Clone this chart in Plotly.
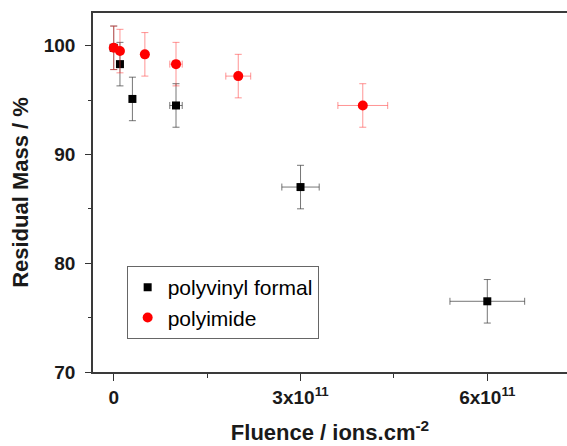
import plotly.graph_objects as go

# Data
pvf_x = [0, 0.1e11, 0.3e11, 1.0e11, 3.0e11, 6.0e11]
pvf_y = [99.8, 98.3, 95.1, 94.5, 87.0, 76.5]
pvf_xerr = [0, 0.01e11, 0.03e11, 0.1e11, 0.3e11, 0.6e11]
pvf_yerr = [2, 2, 2, 2, 2, 2]

pi_x = [0, 0.1e11, 0.5e11, 1.0e11, 2.0e11, 4.0e11]
pi_y = [99.8, 99.5, 99.2, 98.3, 97.2, 94.5]
pi_xerr = [0, 0.01e11, 0.05e11, 0.1e11, 0.2e11, 0.4e11]
pi_yerr = [2, 2, 2, 2, 2, 2]

x_tickvals = [0, 3e11, 6e11]
x_ticktext = ["0", "3x10<sup>11</sup>", "6x10<sup>11</sup>"]
y_tickvals = [70, 80, 90, 100]

fig = go.Figure()
fig.add_trace(go.Scatter(
    x=pvf_x, y=pvf_y, mode="markers", name="polyvinyl formal",
    marker=dict(symbol="square", size=8, color="#000000"),
    error_y=dict(type="data", array=pvf_yerr, color="rgba(60,60,60,0.7)", thickness=1, width=3.5),
    error_x=dict(type="data", array=pvf_xerr, color="rgba(60,60,60,0.7)", thickness=1, width=3.5),
))
fig.add_trace(go.Scatter(
    x=pi_x, y=pi_y, mode="markers", name="polyimide",
    marker=dict(symbol="circle", size=10, color="#ff0000"),
    error_y=dict(type="data", array=pi_yerr, color="rgba(255,60,60,0.55)", thickness=1, width=3.5),
    error_x=dict(type="data", array=pi_xerr, color="rgba(255,60,60,0.55)", thickness=1, width=3.5),
))

axis_font = dict(family="Liberation Sans, Arial, sans-serif", size=19, color="#1a1a1a", weight="bold")
title_font = dict(family="Liberation Sans, Arial, sans-serif", size=22, color="#1a1a1a", weight="bold")

fig.update_layout(
    width=567, height=446,
    margin=dict(l=93, r=0, t=13, b=74, autoexpand=False),
    paper_bgcolor="white", plot_bgcolor="white",
    showlegend=True,
    legend=dict(
        x=0.071, y=0.295, xanchor="left", yanchor="top",
        bordercolor="#666666", borderwidth=1, bgcolor="white",
        font=dict(family="Liberation Sans, Arial, sans-serif", size=21, color="#000000"),
        traceorder="normal",
    ),
    xaxis=dict(
        range=[-0.333e11, 7.28e11],
        automargin=False,
        tickmode="array", tickvals=x_tickvals, ticktext=x_ticktext,
        ticks="outside", ticklen=7, tickwidth=1.2, tickcolor="#333333",
        minor=dict(tickvals=[1.5e11, 4.5e11], ticks="outside", ticklen=4, tickcolor="#333333", tickwidth=1.2),
        showline=True, linecolor="#3a3a3a", linewidth=1.6, mirror=True,
        showgrid=False, zeroline=False,
        tickfont=axis_font,
        title=dict(text="Fluence / ions.cm<sup>-2</sup>", font=title_font, standoff=18),
    ),
    yaxis=dict(
        range=[70, 103.0],
        automargin=False,
        tickmode="array", tickvals=y_tickvals,
        ticks="outside", ticklen=6, tickwidth=1.2, tickcolor="#333333",
        minor=dict(tickvals=[75, 85, 95], ticks="outside", ticklen=3, tickcolor="#333333", tickwidth=1.2),
        showline=True, linecolor="#3a3a3a", linewidth=1.6, mirror=False,
        showgrid=False, zeroline=False,
        tickfont=axis_font,
        ticklabelstandoff=6,
        title=dict(text="Residual Mass / %", font=title_font, standoff=9),
    ),
)

fig.write_html(
    "out.html",
    config={"displayModeBar": False},
    post_script="document.body.style.margin='0';document.body.style.overflow='hidden';",
)
